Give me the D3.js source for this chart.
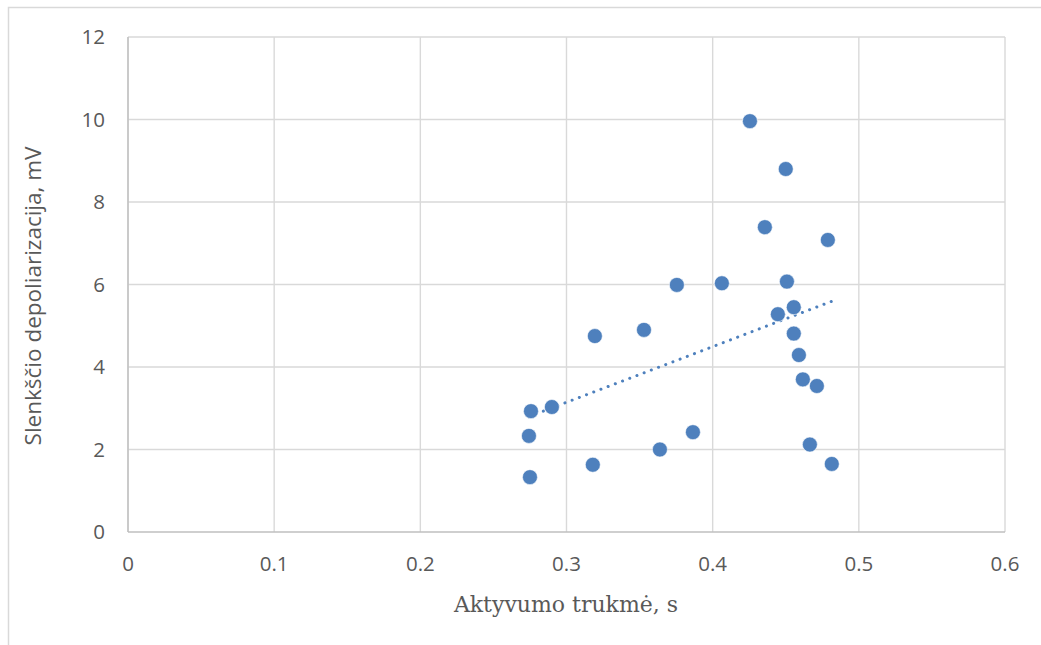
<!DOCTYPE html>
<html>
  <head>
    <script type="text/javascript" src="https://cdn.jsdelivr.net/npm/d3@7"></script>
    <style>
      body { margin: 0; background: #fff; }
    </style>
  </head>
  <body>
    <div id="viz"></div>
    <script type="text/javascript">
      // activation duration (s) and threshold depolarization (mV)
      const duration = [0.4255, 0.450, 0.4357, 0.4788, 0.3755, 0.4063, 0.4508, 0.353,
                        0.3194, 0.4446, 0.4555, 0.4555, 0.459, 0.4617, 0.4713, 0.2757,
                        0.290, 0.2743, 0.3865, 0.3639, 0.318, 0.275, 0.4665, 0.4815];
      const depol = [9.96, 8.80, 7.39, 7.08, 5.99, 6.03, 6.07, 4.90,
                     4.75, 5.28, 5.45, 4.81, 4.29, 3.70, 3.54, 2.93,
                     3.03, 2.33, 2.42, 2.00, 1.63, 1.33, 2.12, 1.65];
      const xTicks = [0, 0.1, 0.2, 0.3, 0.4, 0.5, 0.6];
      const yTicks = [0, 2, 4, 6, 8, 10, 12];

      const width = 1041;
      const height = 645;
      const grey = "#595959";
      const gridColor = "#d9d9d9";
      const blue = "#4e80bd";

      const svg = d3.select("#viz")
        .append("svg")
        .attr("width", width)
        .attr("height", height);

      // chart border, runs off the right and bottom edges
      svg.append("rect")
        .attr("x", 8.5).attr("y", 7.5)
        .attr("width", 1060).attr("height", 660)
        .style("fill", "none")
        .style("stroke", gridColor)
        .style("stroke-width", 1.5);

      const x = d3.scaleLinear().domain([0, 0.6]).range([128, 1005]);
      const y = d3.scaleLinear().domain([0, 12]).range([532, 37]);

      // gridlines
      svg.append("g").selectAll("line.v")
        .data(xTicks)
        .enter().append("line")
        .attr("x1", d => x(d)).attr("x2", d => x(d))
        .attr("y1", y(0)).attr("y2", y(12))
        .style("stroke", gridColor)
        .style("stroke-width", 1.4);

      svg.append("g").selectAll("line.h")
        .data(yTicks)
        .enter().append("line")
        .attr("x1", x(0)).attr("x2", x(0.6))
        .attr("y1", d => y(d)).attr("y2", d => y(d))
        .style("stroke", d => d === 0 ? "#bfbfbf" : gridColor)
        .style("stroke-width", 1.4);

      svg.append("line")
        .attr("x1", x(0)).attr("x2", x(0))
        .attr("y1", y(0)).attr("y2", y(12))
        .style("stroke", "#bfbfbf")
        .style("stroke-width", 1.4);

      // tick labels
      svg.append("g").selectAll("text")
        .data(yTicks)
        .enter().append("text")
        .attr("x", 105)
        .attr("y", d => y(d))
        .attr("dy", "0.35em")
        .attr("text-anchor", "end")
        .style("font-family", "Open Sans, sans-serif")
        .style("font-size", "20.5px")
        .style("fill", grey)
        .text(d => d);

      svg.append("g").selectAll("text")
        .data(xTicks)
        .enter().append("text")
        .attr("x", d => x(d))
        .attr("y", 564)
        .attr("dy", "0.35em")
        .attr("text-anchor", "middle")
        .style("font-family", "Open Sans, sans-serif")
        .style("font-size", "20.5px")
        .style("fill", grey)
        .text(d => d);

      // axis titles
      svg.append("text")
        .attr("x", 566)
        .attr("y", 604)
        .attr("dy", "0.35em")
        .attr("text-anchor", "middle")
        .style("font-family", "DejaVu Serif, serif")
        .style("font-size", "22px")
        .style("fill", grey)
        .text("Aktyvumo trukmė, s");

      svg.append("text")
        .attr("transform", "translate(33, 296) rotate(-90)")
        .attr("dy", "0.35em")
        .attr("text-anchor", "middle")
        .style("font-family", "Open Sans, sans-serif")
        .style("font-size", "22.5px")
        .style("fill", grey)
        .text("Slenkščio depoliarizacija, mV");

      // linear trendline from least squares over the data
      const pts = duration.map((d, i) => ({ x: d, y: depol[i] }));
      const mx = d3.mean(pts, p => p.x);
      const my = d3.mean(pts, p => p.y);
      const slope = d3.sum(pts, p => (p.x - mx) * (p.y - my)) / d3.sum(pts, p => (p.x - mx) * (p.x - mx));
      const icpt = my - slope * mx;
      const xr = d3.extent(duration);

      svg.append("line")
        .attr("x1", x(xr[0])).attr("y1", y(icpt + slope * xr[0]))
        .attr("x2", x(xr[1])).attr("y2", y(icpt + slope * xr[1]))
        .style("stroke", blue)
        .style("stroke-width", 3)
        .style("stroke-linecap", "round")
        .style("stroke-dasharray", "0.1 7.6");

      // points
      svg.append("g").selectAll("circle")
        .data(pts)
        .enter().append("circle")
        .attr("cx", d => x(d.x))
        .attr("cy", d => y(d.y))
        .attr("r", 7.5)
        .style("fill", blue)
        .style("stroke", "#ffffff")
        .style("stroke-width", 0.6);
    </script>
  </body>
</html>
